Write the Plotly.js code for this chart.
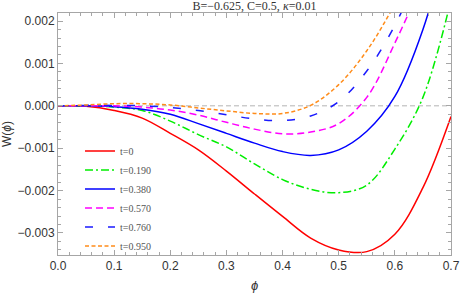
<!DOCTYPE html>
<html>
<head>
<meta charset="utf-8">
<script src="https://cdn.plot.ly/plotly-3.0.1.min.js"></script>
<style>html,body{margin:0;padding:0;background:#fff;}#chart{width:460px;height:295px;}</style>
</head>
<body>
<div id="chart"></div>
<script>
// phi grid
var phi = [0, 0.05, 0.1, 0.15, 0.2, 0.25, 0.3, 0.35, 0.4, 0.45, 0.5, 0.55, 0.6, 0.65, 0.7];

// series labels
var seriesNames = ["t=0", "t=0.190", "t=0.380", "t=0.570", "t=0.760", "t=0.950"];

// W(phi) values
var w_t0    = [0, -0.00001, -0.00011, -0.00029, -0.00065, -0.00104, -0.00154, -0.00208, -0.00261, -0.00312, -0.0034, -0.00344, -0.00303, -0.00193, -0.00025];
var w_t0190 = [0, 0, -0.00003, -0.00011, -0.00036, -0.00068, -0.00097, -0.00137, -0.00174, -0.00197, -0.00205, -0.00187, -0.00102, 0.0002, 0.0025];
var w_t0380 = [0, 0, -0.00002, -0.00008, -0.0002, -0.00042, -0.00065, -0.00088, -0.00108, -0.00117, -0.00104, -0.0006, 0.00022, 0.0018, 0.0042];
var w_t0570 = [0, 0, 0, -0.00003, -0.0001, -0.00022, -0.00039, -0.00055, -0.00066, -0.00062, -0.00042, 0.0002, 0.00148, 0.003, 0.005];
var w_t0760 = [0, 0.00001, 0.00001, 0, -0.00004, -0.00011, -0.00021, -0.00031, -0.00035, -0.00024, 0.0001, 0.00082, 0.0019, 0.0034, 0.0053];
var w_t0950 = [0, 0.00002, 0.00005, 0.00005, 0.00002, -0.00005, -0.00012, -0.00018, -0.00018, 0.00001, 0.0005, 0.0013, 0.0024, 0.0037, 0.0054];

var xTicks = [0, 0.1, 0.2, 0.3, 0.4, 0.5, 0.6, 0.7];
var yTicks = [-0.003, -0.002, -0.001, 0, 0.001, 0.002];

var allW = [w_t0, w_t0190, w_t0380, w_t0570, w_t0760, w_t0950];
var colors = ["#ff0000", "#00ee00", "#0000ff", "#ff00ff", "#1a1aff", "#ff8c1a"];
var dashes = ["solid", "8px,3px,2px,3px", "solid", "7px,4px", "8px,15px", "4px,2.5px"];

var traces = allW.map(function (w, i) {
  return {
    x: phi, y: w, type: "scatter", mode: "lines", name: seriesNames[i],
    line: {color: colors[i], width: 1.5, dash: dashes[i], shape: "spline", smoothing: 1}
  };
});

var axisCommon = {
  showline: true, linecolor: "#a6a6a6", linewidth: 1, mirror: "ticks",
  ticks: "inside", ticklen: 5, tickcolor: "#a6a6a6", tickwidth: 1,
  showgrid: false, zeroline: false,
  tickfont: {family: "Liberation Sans, Arial, sans-serif", size: 12, color: "#333"}
};

var layout = {
  width: 460, height: 295,
  margin: {l: 58, r: 9, t: 13, b: 40},
  paper_bgcolor: "#fff", plot_bgcolor: "#fff",
  showlegend: true,
  title: {text: "B=−0.625, C=0.5, <i>κ</i>=0.01", x: 0.5, xref: "paper", xanchor: "center",
          y: 0.995, yref: "container", yanchor: "top",
          font: {family: "Liberation Serif, Times New Roman, serif", size: 12, color: "#333"}},
  xaxis: Object.assign({}, axisCommon, {
    range: [0, 0.7], tickvals: xTicks, tickformat: ".1f",
    minor: {ticks: "inside", ticklen: 3, tickcolor: "#a6a6a6", dtick: 0.02, tick0: 0, showgrid: false},
    title: {text: "<i>ϕ</i>", standoff: 8, font: {family: "Liberation Sans, Arial, sans-serif", size: 13, color: "#333"}}
  }),
  yaxis: Object.assign({}, axisCommon, {
    range: [-0.00352, 0.00219], tickvals: yTicks, tickformat: ".3f",
    minor: {ticks: "inside", ticklen: 3, tickcolor: "#a6a6a6", dtick: 0.0002, tick0: 0, showgrid: false},
    title: {text: "W(<i>ϕ</i>)", standoff: 6, font: {family: "Liberation Sans, Arial, sans-serif", size: 12, color: "#333"}}
  }),
  legend: {
    x: 0.056, xanchor: "left", y: 0.49, yanchor: "top",
    bgcolor: "rgba(0,0,0,0)", borderwidth: 0,
    font: {family: "Liberation Serif, Times New Roman, serif", size: 10, color: "#555"},
    itemwidth: 30, tracegroupgap: 0
  },
  shapes: [{
    type: "line", xref: "paper", x0: 0, x1: 1, yref: "y", y0: 0, y1: 0,
    line: {color: "#b3b3b3", width: 1, dash: "5px,3px"}, layer: "below"
  }]
};

Plotly.newPlot("chart", traces, layout, {displayModeBar: false, staticPlot: true});
</script>
</body>
</html>
